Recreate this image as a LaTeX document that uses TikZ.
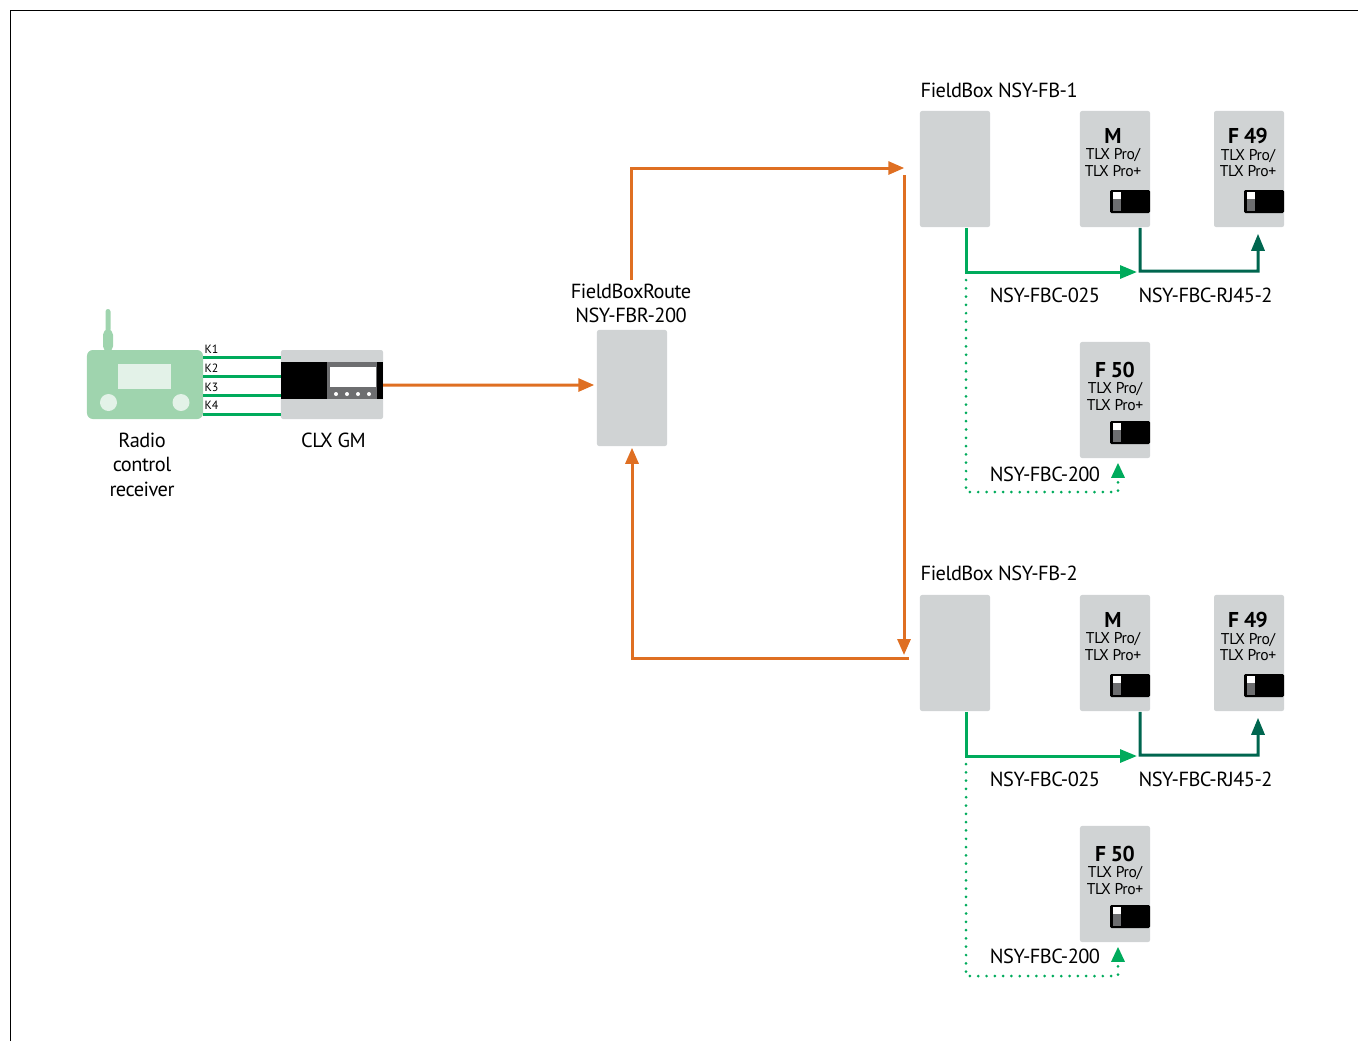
\documentclass[tikz,border=0pt]{standalone}
\usepackage{fontspec}
\usepackage{tikz}
\usetikzlibrary{calc,arrows.meta}
\setmainfont[LetterSpace=-2.5]{PT Sans}
\definecolor{boxgrey}{HTML}{D0D3D4}
\definecolor{wireorange}{HTML}{DF6F22}
\definecolor{wiregreen}{HTML}{00AB5C}
\definecolor{wiredark}{HTML}{00664F}
\definecolor{radiogreen}{HTML}{9FD4AE}
\definecolor{radiolight}{HTML}{E3F2E8}
\definecolor{panelgrey}{HTML}{6D6E70}
\tikzset{
  greybox/.style={fill=boxgrey, rounded corners=.6pt, minimum width=.7cm, minimum height=1.16cm, inner sep=0pt},
  txt/.style={inner sep=0pt, align=center, font=\fontsize{5.8}{6.95}\selectfont},
  modtxt/.style={inner sep=0pt, align=center, font=\fontsize{4.45}{4.7}\selectfont},
  ktxt/.style={inner sep=0pt, font=\fontsize{3.4}{4}\selectfont},
  orangeline/.style={draw=wireorange, line width=.85pt, -{Triangle[length=.16cm,width=.13cm]}},
  greenline/.style={draw=wiregreen, line width=.85pt, -{Triangle[length=.17cm,width=.13cm]}},
  darkline/.style={draw=wiredark, line width=.85pt, -{Triangle[length=.17cm,width=.13cm]}},
  dotline/.style={draw=wiregreen, line width=.85pt, line cap=round, dash pattern=on 0pt off .083cm, -{Triangle[length=.15cm,width=.13cm]}},
  switchpic/.pic={
    \fill[black, rounded corners=.4pt] (0,0) rectangle (40,23);
    \fill[panelgrey] (3,2) rectangle (11,21);
    \fill[white] (3,2) rectangle (11,9);
  }
}
\begin{document}
\begin{tikzpicture}[x=.01cm,y=-.01cm]
\useasboundingbox (0,0) rectangle (1358,1041);
\draw[line width=.3pt] (10.5,1041) -- (10.5,10.5) -- (1358,10.5);
% radio receiver
\fill[radiogreen, rounded corners=1.6pt] (103,352) -- (103,329) -- (113,329) -- (113,352) -- cycle;
\fill[radiogreen, rounded corners=.7pt] (105.5,332) -- (105.5,309) -- (110.5,309) -- (110.5,332) -- cycle;
\node[fill=radiogreen, rounded corners=1.7pt, minimum width=1.16cm, minimum height=.69cm, inner sep=0pt] (radio) at (145,384.5) {};
\fill[radiolight] (118,364) rectangle (171,389);
\fill[radiolight] (108.5,402.5) circle (8.5);
\fill[radiolight] (181,402.5) circle (8.5);
\node[txt] (radiotxt) at (142,464.5) {Radio\\control\\receiver};
% clx gm
\node[fill=boxgrey, rounded corners=.6pt, minimum width=1.02cm, minimum height=.69cm, inner sep=0pt] (clx) at (332,384.5) {};
\fill[black] (281,362) rectangle (383,399);
\fill[panelgrey] (327,362) rectangle (377,399);
\fill[white] (330,367) rectangle (376,387);
\foreach \x in {336,347,358,369}
\fill[white] (\x,394) circle (2);
\node[txt] (clxtxt) at (333.5,440) {CLX GM};
\foreach \k/\y in {1/357.5,2/376.5,3/395.5,4/414}{
\coordinate (ka\k) at (203,\y);
\coordinate (kb\k) at (281,\y);
\draw[wiregreen, line width=.85pt] (ka\k) -- (kb\k);
\node[ktxt] (ktxt\k) at (211.5,\y-8.5) {K\k};
}
% route
\node[greybox] (fbr) at (632,388) {};
\node[txt] (fbrtxt) at (631,303.5) {FieldBoxRoute\\NSY-FBR-200};
% field boxes
\foreach \n/\dy/\ty/\ly in {1/0/474/90,2/484/956/573}{
\node[greybox] (fb\n) at (955,169+\dy) {};
\node[greybox] (m\n) at (1115,169+\dy) {};
\node[greybox] (f\n) at (1249,169+\dy) {};
\node[greybox] (g\n) at (1115,400+\dy) {};
\node[txt, anchor=west] (fbtxt\n) at (920,\ly) {FieldBox NSY-FB-\n};
\node[modtxt] (mtxt\n) at (1113,152.5+\dy) {{\fontsize{6.1}{5.9}\selectfont\bfseries M}\\TLX Pro/\\TLX Pro+};
\node[modtxt] (ftxt\n) at (1248,152.5+\dy) {{\fontsize{6.1}{5.9}\selectfont\bfseries F 49}\\TLX Pro/\\TLX Pro+};
\node[modtxt] (gtxt\n) at (1115,386+\dy) {{\fontsize{6.1}{5.9}\selectfont\bfseries F 50}\\TLX Pro/\\TLX Pro+};
\pic at (1110,190+\dy) {switchpic};
\pic at (1244,190+\dy) {switchpic};
\pic at (1110,421+\dy) {switchpic};
\node[txt] (lbla\n) at (1045,295+\dy) {NSY-FBC-025};
\node[txt] (lblb\n) at (1205.5,295+\dy) {NSY-FBC-RJ45-2};
\node[txt] (lblc\n) at (1045,\ty) {NSY-FBC-200};
\coordinate (jn\n) at (1137,272+\dy);
\coordinate (dot\n) at (966,280+\dy);
\coordinate (cr\n) at (1118,492+\dy);
\draw[greenline] ([xshift=.11cm]fb\n.south) |- (jn\n);
\draw[darkline] ([xshift=.25cm]m\n.south) |- (1258,271+\dy) -- ([xshift=.09cm,yshift=-.06cm]f\n.south);
\draw[dotline] (dot\n) |- (cr\n) -- ([xshift=.03cm,yshift=-.04cm]g\n.south);
}
% orange links
\coordinate (ora) at (904,175);
\coordinate (orb) at (904,655);
\coordinate (orc) at (909,658);
\draw[orangeline] (383,385) -- ([xshift=-.02cm,yshift=.03cm]fbr.west);
\draw[orangeline] ([yshift=.03cm]fbrtxt.north) |- ([xshift=-.15cm,yshift=.01cm]fb1.west);
\draw[orangeline] (ora) -- (orb);
\draw[orangeline] (orc) -| ([yshift=-.01cm]fbr.south);
\end{tikzpicture}
\end{document}
